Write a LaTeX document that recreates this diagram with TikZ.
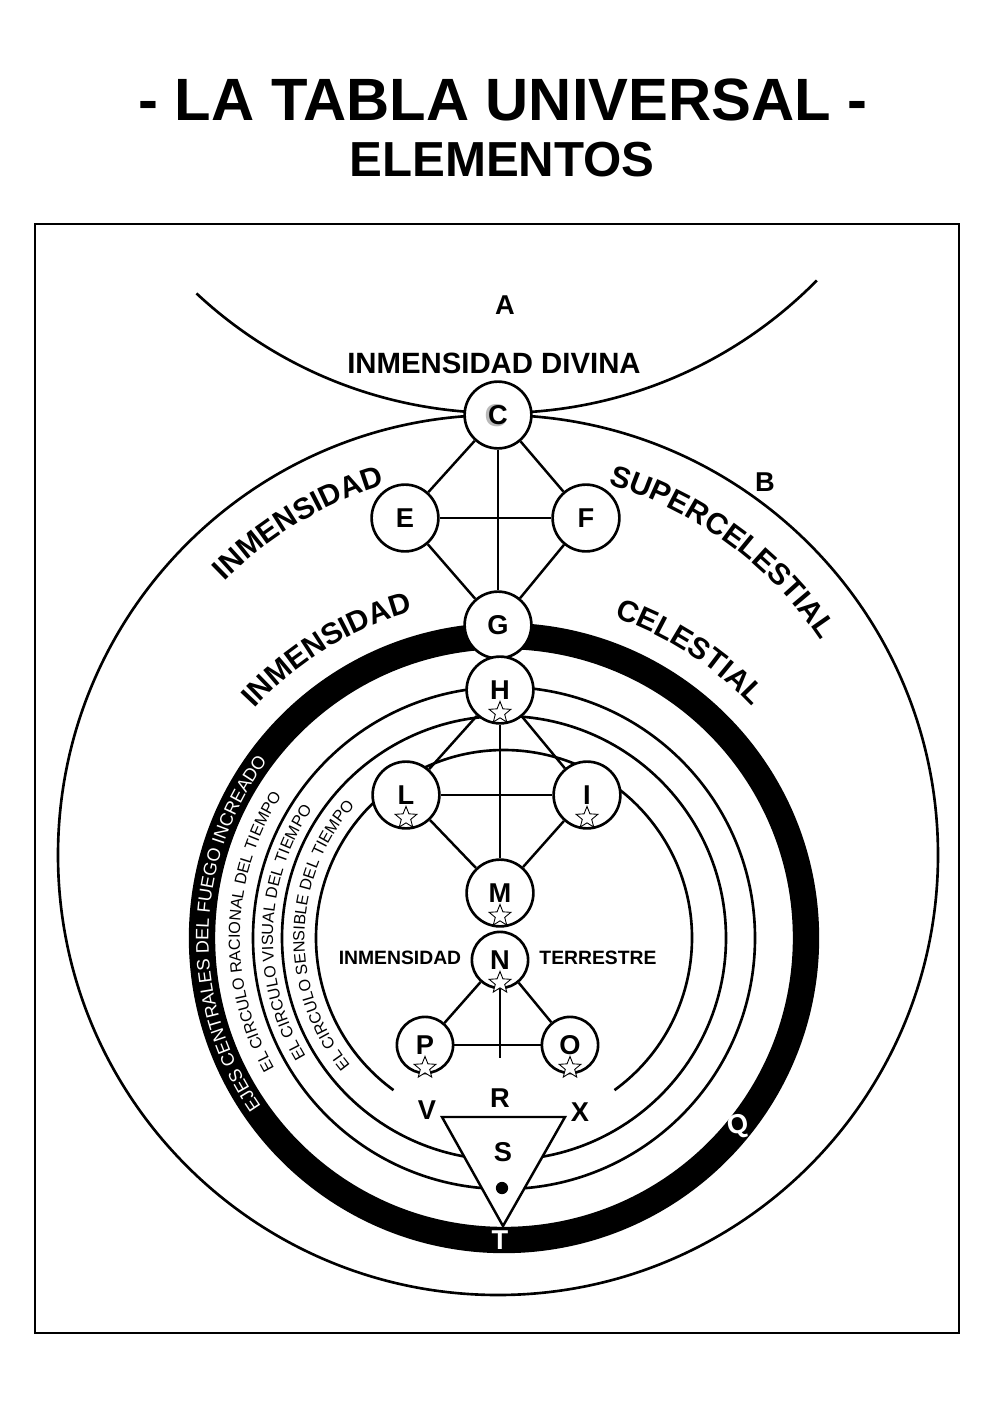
\documentclass[tikz,border=0pt]{standalone}
\usepackage{fontspec}
\setmainfont{Liberation Sans}
\usetikzlibrary{shapes.geometric,decorations.text,positioning}

\newcommand\arcfont{\bfseries\fontsize{17}{17}\selectfont}
\newcommand\bandfont{\color{white}\fontsize{10.3}{10.3}\selectfont}
\newcommand\ringfont{\fontsize{9.2}{9.2}\selectfont}

\begin{document}
\begin{tikzpicture}[
  x=0.02cm, y=0.02cm,
  knot/.style={circle, draw, line width=1.5pt, fill=white, minimum size=38pt, inner sep=0pt, font=\bfseries\fontsize{15.5}{15.5}\selectfont},
  knotsm/.style={knot, minimum size=32pt},
  lnk/.style={line width=1.4pt},
  ring/.style={line width=1.5pt},
  starlet/.style={star, star points=5, star point ratio=2.3, draw, fill=white, line width=0.5pt, minimum size=13pt, inner sep=0pt},
  lbl/.style={font=\bfseries\fontsize{15.5}{15.5}\selectfont, inner sep=0pt},
  arctext/.style={decorate, decoration={text along path, text align=center, text={#1}}}
]
  \useasboundingbox[fill=white] (0,0) rectangle (993,-1404);

  % title
  \node[font=\bfseries\fontsize{34}{34}\selectfont] (title) at (503,-100) {- LA TABLA UNIVERSAL -};
  \node[font=\bfseries\fontsize{28}{28}\selectfont] (subtitle) at (502,-160) {ELEMENTOS};
  \draw[line width=1.1pt] (35,-224) rectangle (959,-1333);

  % spheres
  \draw[ring] (500,32) ++(227:445) arc[start angle=227, end angle=315.4, radius=445];
  \draw[ring] (498,-855) circle[radius=440];
  \draw[line width=15pt] (504,-938) circle[radius=302];
  \draw[ring] (504,-938) circle[radius=251];
  \draw[ring] (504,-938) circle[radius=222];
  \draw[ring] (504,-938) ++(-54:188) arc[start angle=-54, end angle=234, radius=188];

  % curved names
  \path[arctext={|\arcfont|INMENSIDAD}] (498,-855) ++(140:387) arc[start angle=140, end angle=102, radius=387];
  \path[arctext={|\arcfont|SUPERCELESTIAL}] (498,-855) ++(78:387) arc[start angle=78, end angle=29, radius=387];
  \path[arctext={|\arcfont|INMENSIDAD}] (504,-938) ++(143:339) arc[start angle=143, end angle=100, radius=339];
  \path[arctext={|\arcfont|CELESTIAL}] (504,-938) ++(80:339) arc[start angle=80, end angle=34, radius=339];
  \path[arctext={|\bandfont|EJES CENTRALES DEL FUEGO INCREADO}]
    (504,-938) ++(220:295.5) arc[start angle=220, end angle=138, radius=295.5];
  \path[arctext={|\ringfont|EL CIRCULO RACIONAL DEL TIEMPO}] (504,-938) ++(215:264) arc[start angle=215, end angle=142, radius=264];
  \path[arctext={|\ringfont|EL CIRCULO VISUAL DEL TIEMPO}] (504,-938) ++(215:231) arc[start angle=215, end angle=142, radius=231];
  \path[arctext={|\ringfont|EL CIRCULO SENSIBLE DEL TIEMPO}] (504,-938) ++(225:199.5) arc[start angle=225, end angle=133, radius=199.5];

  % labels
  \node[lbl] (lA) at (505,-305) {A};
  \node[lbl] (lB) at (765,-482) {B};
  \node[font=\bfseries\fontsize{16.7}{16.7}\selectfont] (divina) at (494,-363) {INMENSIDAD DIVINA};
  \node[font=\bfseries\fontsize{11}{11}\selectfont] (inm) at (400,-958) {INMENSIDAD};
  \node[font=\bfseries\fontsize{11}{11}\selectfont] (terr) at (598,-958) {TERRESTRE};
  \node[lbl, text=white, rotate=12] (lQ) at (738,-1127) {Q};

  % tree
  \node[knot] (C) at (498,-415) {};
  \node[text=gray!55, font=\bfseries\fontsize{18}{18}\selectfont] (Cg) at (496,-416) {C};
  \node[font=\bfseries\fontsize{15.5}{15.5}\selectfont] (Ct) at (C) {C};
  \node[knot] (E) at (405,-518) {E};
  \node[knot] (F) at (586,-518) {F};
  \node[knot] (G) at (498,-625) {G};
  \node[knot] (H) at (500,-690) {H};
  \node[knot] (L) at (406,-795) {L};
  \node[knot] (I) at (587,-795) {I};
  \node[knot] (M) at (500,-893) {M};
  \node[knotsm] (N) at (500,-960) {N};
  \node[knotsm] (P) at (425,-1045) {P};
  \node[knotsm] (O) at (570,-1045) {O};
  \coordinate (Nend) at (500,-1058);

  \draw[lnk] (C) -- (E);
  \draw[lnk] (C) -- (F);
  \draw[lnk] (C) -- (G);
  \draw[lnk] (E) -- (F);
  \draw[lnk] (E) -- (G);
  \draw[lnk] (F) -- (G);
  \draw[lnk] (H) -- (L);
  \draw[lnk] (H) -- (I);
  \draw[lnk] (H) -- (M);
  \draw[lnk] (L) -- (I);
  \draw[lnk] (L) -- (M);
  \draw[lnk] (I) -- (M);
  \draw[lnk] (N) -- (P);
  \draw[lnk] (N) -- (O);
  \draw[lnk] (N) -- (Nend);
  \draw[lnk] (P) -- (O);

  % stars
  \foreach \n in {H,L,I,M,N,P,O}
    \node[starlet] (s\n) at ([yshift=-13pt]\n.center) {};

  % triangle
  \coordinate (tv) at (442,-1117);
  \coordinate (tx) at (565,-1117);
  \coordinate (tt) at (503,-1226);
  \draw[lnk, fill=white] (tv) -- (tx) -- (tt) -- cycle;
  \node[circle, fill, minimum size=7pt, inner sep=0pt] (dot) at (502,-1188) {};
  \node[lbl] (lV) at (427,-1110) {V};
  \node[lbl] (lX) at (580,-1112) {X};
  \node[lbl] (lR) at (500,-1098) {R};
  \node[lbl] (lS) at (503,-1152) {S};
  \node[lbl, text=white] (lT) at (500,-1240) {T};
\end{tikzpicture}
\end{document}
